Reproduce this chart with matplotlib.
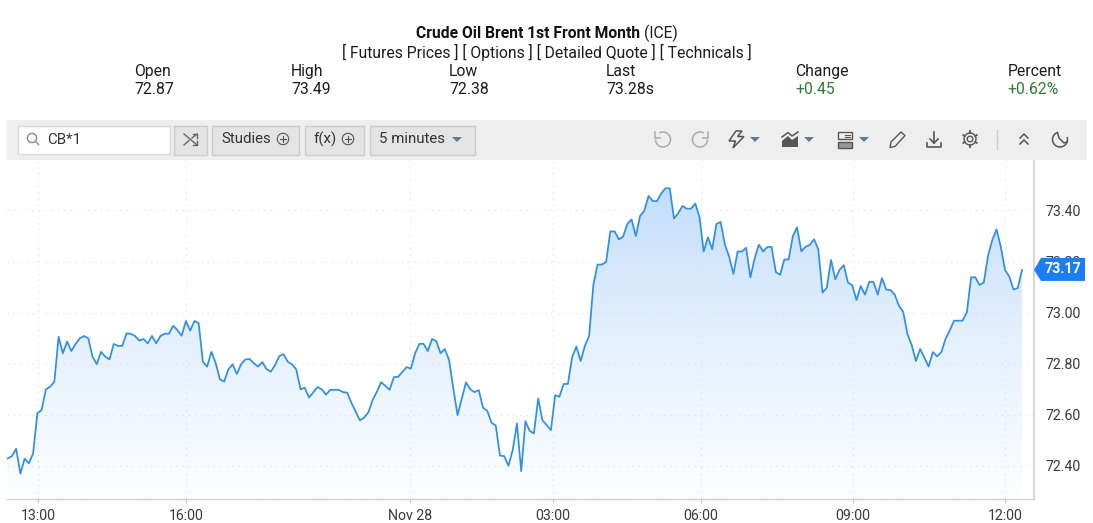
import numpy as np
import matplotlib
matplotlib.use("Agg")
import matplotlib.pyplot as plt
from matplotlib.colors import LinearSegmentedColormap
from matplotlib.patches import Rectangle, Polygon, Circle, Arc

plt.rcParams['font.family'] = ['Roboto', 'DejaVu Sans']

prices = [
72.428,72.437,72.466,72.369,72.427,72.409,72.448,72.605,72.618,72.699,72.709,72.729,72.905,72.840,72.886,72.849,
72.877,72.899,72.908,72.899,72.827,72.798,72.846,72.827,72.816,72.877,72.869,72.869,72.918,72.917,72.908,72.890,
72.896,72.879,72.908,72.879,72.908,72.917,72.917,72.948,72.931,72.909,72.967,72.929,72.967,72.958,72.807,72.788,
72.846,72.803,72.738,72.729,72.777,72.797,72.759,72.797,72.816,72.818,72.801,72.788,72.806,72.778,72.768,
72.794,72.829,72.837,72.807,72.797,72.777,72.699,72.705,72.667,72.687,72.708,72.699,72.678,72.697,72.697,72.697,
72.688,72.686,72.646,72.611,72.577,72.588,72.609,72.657,72.690,72.727,72.712,72.697,72.747,72.748,72.767,72.786,
72.780,72.840,72.877,72.877,72.849,72.896,72.888,72.840,72.857,72.814,72.703,72.598,72.663,72.726,72.699,72.688,
72.696,72.627,72.615,72.568,72.557,72.439,72.437,72.399,72.461,72.565,72.378,72.574,72.536,72.526,72.663,
72.578,72.559,72.539,72.676,72.670,72.720,72.720,72.825,72.867,72.810,72.869,72.908,
73.108,73.188,73.188,73.198,73.318,73.318,73.287,73.297,73.347,73.365,73.300,73.378,73.399,73.457,73.437,73.437,
73.467,73.487,73.487,73.369,73.389,73.418,73.407,73.407,73.427,73.376,73.239,73.295,73.248,73.347,73.355,73.266,
73.219,73.151,73.239,73.239,73.254,73.138,73.212,73.266,73.239,73.257,73.257,73.159,73.148,73.208,73.208,73.299,
73.334,73.240,73.258,73.265,
73.287,73.248,73.078,73.097,73.206,73.130,73.167,73.186,73.117,73.107,73.049,73.104,73.070,73.120,73.120,73.070,
73.135,73.090,73.088,73.070,73.027,73.003,72.916,72.873,72.810,72.857,72.823,72.788,72.845,72.828,72.845,72.897,
72.931,72.968,72.968,72.968,73.000,73.138,73.138,73.108,73.118,73.223,73.284,73.326,73.258,73.167,73.141,73.090,
73.096,73.167,
]
y_ticks = [72.40, 72.60, 72.80, 73.00, 73.20, 73.40]
x_tick_pos = [7.15, 42.0, 94.8, 128.5, 163.4, 199.2, 235.0]
x_tick_labels = ["13:00", "16:00", "Nov 28", "03:00", "06:00", "09:00", "12:00"]

header_names = ["Open", "High", "Low", "Last", "Change", "Percent"]
header_values = ["72.87", "73.49", "72.38", "73.28s", "+0.45", "+0.62%"]
header_x = [134, 291, 449, 606, 795.5, 1007.5]

W, H = 1093, 523
fig = plt.figure(figsize=(W / 100, H / 100), dpi=100, facecolor="white")

# ---------- chart ----------
L, R, T, B = 7, 1034, 161, 499
ax = fig.add_axes([L / W, 1 - B / H, (R - L) / W, (B - T) / H])
x = np.arange(len(prices))
px_per = (1022 - 7.67) / (len(prices) - 1)
xlim = (-(7.67 - L) / px_per, (R - 7.67) / px_per)
ylim = (72.269, 73.594)

cmap = LinearSegmentedColormap.from_list("fade", ["#fdfeff", "#e4f0fd", "#bfdcfb"])
grad = np.linspace(1, 0, 256).reshape(-1, 1)
im = ax.imshow(grad, cmap=cmap, vmin=0, vmax=1, aspect="auto", zorder=1,
               extent=(xlim[0], xlim[1], ylim[0], 73.55))
poly = np.vstack([[0, ylim[0]], np.column_stack([x, prices]), [x[-1], ylim[0]]])
clip = Polygon(poly, closed=True, transform=ax.transData, fc="none", ec="none")
ax.add_patch(clip)
im.set_clip_path(clip)

ax.plot(x, prices, color="#2f8fe6", lw=1.25, zorder=3, solid_joinstyle="round")
ax.set_xlim(xlim)
ax.set_ylim(ylim)

ax.yaxis.tick_right()
ax.set_yticks(y_ticks)
ax.set_yticklabels([f"{v:.2f}" for v in y_ticks])
ax.set_xticks(x_tick_pos)
ax.set_xticklabels(x_tick_labels)
ax.tick_params(axis="y", length=0, pad=8, labelsize=10.2, labelcolor="#3a3a3a")
ax.tick_params(axis="x", length=3, width=0.8, color="#c8c8c8", pad=4.5, labelsize=10.2, labelcolor="#3a3a3a")
ax.grid(True, color="#e0e0e0", lw=0.9, linestyle=(0, (1, 4)), zorder=2)
ax.set_axisbelow(False)
for s in ("top", "left", "right"):
    ax.spines[s].set_visible(False)
ax.spines["bottom"].set_color("#cfcfcf")
ax.spines["bottom"].set_linewidth(1)
ax.plot([1, 1], [0, 1], transform=ax.transAxes, color="#cfcfcf", lw=1.2, clip_on=False, zorder=4)

# ---------- overlay in pixel coordinates (page furniture) ----------
ov = fig.add_axes([0, 0, 1, 1], facecolor="none")
ov.set_xlim(0, W)
ov.set_ylim(H, 0)
ov.axis("off")

FS = 11.35
ink = "#1c1c1c"
ov.text(416, 33.5, "Crude Oil Brent 1st Front Month", fontsize=11.25, fontweight="bold",
        color="#111111", ha="left", va="center")
ov.text(644, 33.5, "(ICE)", fontsize=11.25, color=ink, ha="left", va="center")
ov.text(546.5, 52.5, "[ Futures Prices ] [ Options ] [ Detailed Quote ] [ Technicals ]",
        fontsize=FS, color=ink, ha="center", va="center")
for i, (n, v, hx) in enumerate(zip(header_names, header_values, header_x)):
    ov.text(hx, 71.5, n, fontsize=FS, color=ink, ha="left", va="center")
    ov.text(hx, 89.5, v, fontsize=FS, color="#2e7d32" if i >= 4 else ink, ha="left", va="center")

# toolbar
ov.add_patch(Rectangle((7, 120), 1080, 40, fc="#eeeeee", ec="none"))
ov.add_patch(Rectangle((18, 125.5), 152, 28, fc="white", ec="#d9d9d9", lw=1))
ov.add_patch(Circle((32, 138), 4.6, fc="none", ec="#8a8a8a", lw=1))
ov.plot([35.5, 38.5], [141.5, 144.5], color="#8a8a8a", lw=1)
ov.text(47, 140, "CB*1", fontsize=10.8, color="#333333", ha="left", va="center")

for bx0, bx1 in [(174, 207), (212, 299), (305, 364), (370, 475)]:
    ov.add_patch(Rectangle((bx0, 125.5), bx1 - bx0, 29, fc="#e4e4e4", ec="#cccccc", lw=1))
# shuffle icon
sc = "#666666"
ov.plot([184, 197], [134, 145], color=sc, lw=1)
ov.plot([184, 189], [145, 140.5], color=sc, lw=1)
ov.plot([192, 197], [138, 134], color=sc, lw=1)
ov.plot([193, 197, 197], [134, 134, 138], color=sc, lw=1)
ov.plot([197, 197, 193], [141, 145, 145], color=sc, lw=1)

ov.text(221, 139, "Studies", fontsize=10.8, color="#333333", ha="left", va="center")
ov.text(314, 139, "f(x)", fontsize=10.8, color="#333333", ha="left", va="center")
ov.text(379, 139, "5 minutes", fontsize=10.8, color="#333333", ha="left", va="center")
for cx in (283, 348):
    ov.add_patch(Circle((cx, 139), 5.7, fc="none", ec="#555555", lw=0.8))
    ov.plot([cx - 3, cx + 3], [139, 139], color="#555555", lw=0.8)
    ov.plot([cx, cx], [136, 142], color="#555555", lw=0.8)
tri = "#5f7d95"
for cx in (457, 755, 809, 864):
    ov.add_patch(Polygon([(cx - 5, 137), (cx + 5, 137), (cx, 142)], closed=True, fc=tri, ec="none"))

# undo / redo
for cx, flip in [(663, 1), (700, -1)]:
    c = "#aaaaaa"
    th1, th2 = (-120, 180) if flip == 1 else (0, 300)
    ov.add_patch(Arc((cx, 139.5), 15, 15, theta1=th1, theta2=th2, ec=c, lw=1.1))
    ov.plot([cx - flip * 8, cx - flip * 8, cx - flip * 3], [132, 137.5, 137.5], color=c, lw=1.1)
ic = "#555555"
# lightning
ov.add_patch(Polygon([(736, 131), (729, 141), (735.5, 141), (733, 148), (744, 136.5), (737.5, 136.5), (742, 131)],
                     closed=True, fc="none", ec=ic, lw=1.1))
# area chart
ov.add_patch(Polygon([(782, 147), (782, 141), (788, 136), (792, 140), (798, 136), (798, 147)],
                     closed=True, fc="#555555", ec="none"))
ov.plot([782, 788, 792, 798], [137, 132.5, 136, 132], color=ic, lw=1.1)
# layout
ov.add_patch(Rectangle((838, 132), 14, 7, fc="none", ec=ic, lw=1))
ov.add_patch(Rectangle((838, 142), 14, 5.5, fc="#999999", ec=ic, lw=1))
ov.plot([845, 850], [134.5, 134.5], color=ic, lw=0.8)
ov.plot([845, 850], [136.5, 136.5], color=ic, lw=0.8)
# pencil
ov.add_patch(Polygon([(890, 147.5), (891, 142), (901, 132), (905, 135.5), (895, 146.5)],
                     closed=True, fc="none", ec=ic, lw=1))
# download
ov.plot([934, 934], [132, 143], color=ic, lw=1.2)
ov.plot([930, 934, 938], [139, 143, 139], color=ic, lw=1.2)
ov.plot([927, 927, 941, 941], [143, 147, 147, 143], color=ic, lw=1.2)
# gear
ov.add_patch(Circle((970, 139), 2.8, fc="none", ec=ic, lw=1))
ov.add_patch(Circle((970, 139), 6.0, fc="none", ec=ic, lw=1))
for a in np.deg2rad(np.arange(0, 360, 60) + 30):
    ov.plot([970 + 6.0 * np.cos(a), 970 + 7.8 * np.cos(a)],
            [139 + 6.0 * np.sin(a), 139 + 7.8 * np.sin(a)], color=ic, lw=1.3)
# separator
ov.plot([997, 997], [130, 149], color="#cccccc", lw=1)
# chevrons
ov.plot([1020, 1024, 1028], [138, 134, 138], color=ic, lw=1.1)
ov.plot([1020, 1024, 1028], [144, 140, 144], color=ic, lw=1.1)
# moon
ov.add_patch(Arc((1060, 139.5), 15, 15, theta1=-20, theta2=250, ec=ic, lw=1.1))
ov.plot([1057.5, 1059, 1064, 1067], [132.5, 138, 143, 142], color=ic, lw=1.1)

# last-price tag
tag_y = H - ax.transData.transform((0, prices[-1]))[1]
ov.add_patch(Polygon([(1034, tag_y), (1041, tag_y - 12), (1085, tag_y - 12), (1085, tag_y + 11),
                      (1041, tag_y + 11)], closed=True, fc="#1a7ff5", ec="none"))
ov.text(1063, tag_y - 0.5, f"{prices[-1]:.2f}", color="white", fontsize=10.3, fontweight="bold",
        ha="center", va="center")

fig.savefig("out.png", dpi=100)
